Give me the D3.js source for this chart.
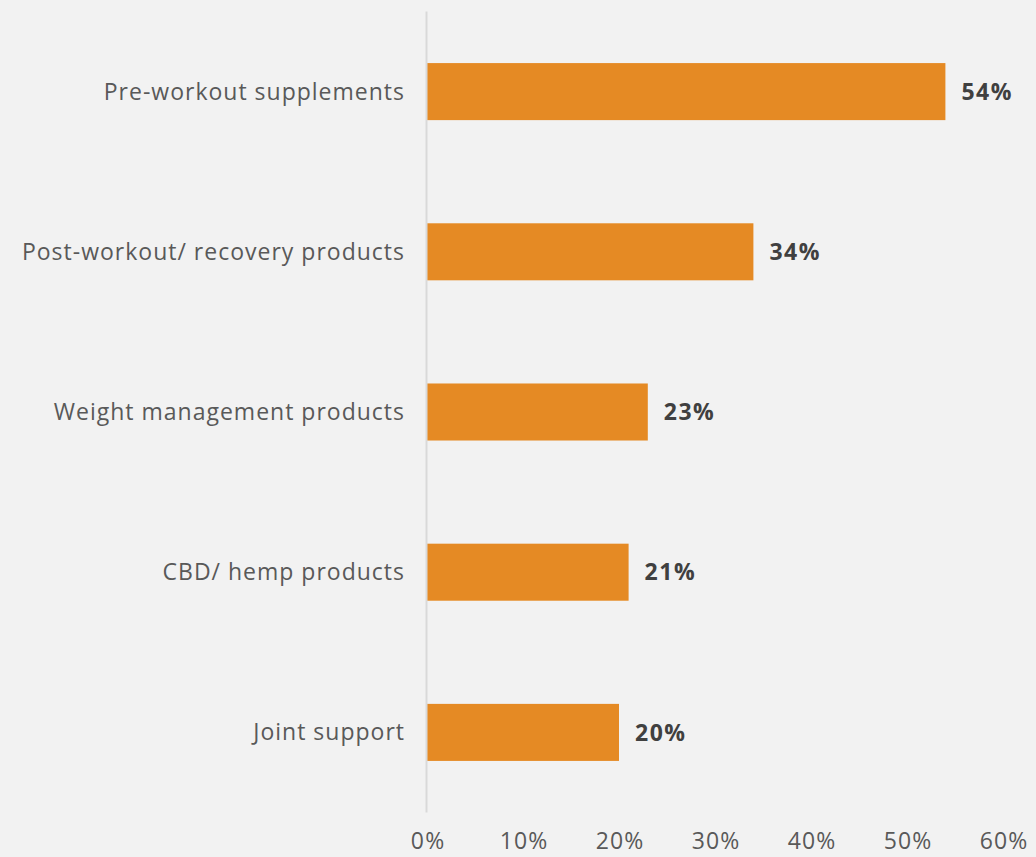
<!DOCTYPE html>
<html>
<head>
<meta charset="utf-8">
<script src="https://cdn.jsdelivr.net/npm/d3@7"></script>
<style>
  html, body { margin: 0; padding: 0; background: #f2f2f2; }
  svg { display: block; }
  text { font-family: "Open Sans", sans-serif; }
</style>
</head>
<body>
<svg id="chart" width="1036" height="857"></svg>
<script>
// Share of respondents by product type
const categories = [
  "Pre-workout supplements",
  "Post-workout/ recovery products",
  "Weight management products",
  "CBD/ hemp products",
  "Joint support"
];
const values = [54, 34, 23, 21, 20];
const tickValues = [0, 10, 20, 30, 40, 50, 60];
const tickLabels = ["0%", "10%", "20%", "30%", "40%", "50%", "60%"];

const svg = d3.select("#chart");
const W = 1036, H = 857;
svg.append("rect").attr("width", W).attr("height", H).attr("fill", "#f2f2f2");

const x = d3.scaleLinear().domain([0, 60]).range([427, 1003]);
const y = d3.scaleBand().domain(categories).range([11.5, 812.5])
  .paddingInner(0.644).paddingOuter(0.322);

// bars
svg.append("g").selectAll("rect")
  .data(categories)
  .join("rect")
  .attr("x", x(0))
  .attr("y", d => y(d))
  .attr("width", (d, i) => x(values[i]) - x(0))
  .attr("height", y.bandwidth())
  .attr("fill", "#e58a24");

// vertical baseline
svg.append("line")
  .attr("x1", x(0) - 0.5).attr("x2", x(0) - 0.5)
  .attr("y1", 11.5).attr("y2", 812.5)
  .attr("stroke", "#d9d9d9").attr("stroke-width", 2);

// category labels
const yAxis = d3.axisLeft(y).tickSize(0).tickPadding(0);
const gy = svg.append("g").attr("transform", `translate(405,0)`).call(yAxis);
gy.select(".domain").remove();
gy.selectAll("text")
  .attr("fill", "#595959")
  .style("font-size", "23px")
  .style("letter-spacing", "1px")
  .attr("dy", "0.35em");

// value labels
svg.append("g").selectAll("text")
  .data(categories)
  .join("text")
  .attr("x", (d, i) => x(values[i]) + 16)
  .attr("y", d => y(d) + y.bandwidth() / 2)
  .attr("dy", "0.36em")
  .attr("fill", "#404040")
  .style("font-size", "23px")
  .style("font-weight", "bold")
  .style("letter-spacing", "1.5px")
  .text((d, i) => values[i] + "%");

// x axis tick labels
const xAxis = d3.axisBottom(x).tickValues(tickValues)
  .tickFormat((d, i) => tickLabels[i]).tickSize(0).tickPadding(0);
const gx = svg.append("g").attr("transform", `translate(0,832)`).call(xAxis);
gx.select(".domain").remove();
gx.selectAll("text")
  .attr("fill", "#595959")
  .style("font-size", "23px")
  .style("letter-spacing", "1.2px")
  .attr("dx", "0.6px")
  .attr("dy", "0.75em");
</script>
</body>
</html>
